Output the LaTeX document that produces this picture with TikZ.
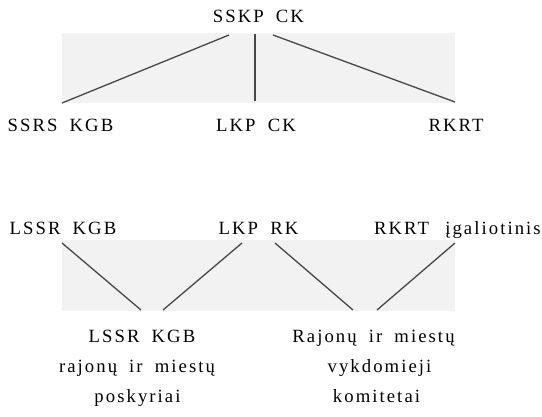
\documentclass[tikz,border=0pt]{standalone}
\usepackage{fontspec}
\setmainfont{Liberation Serif}
\newfontfamily\lsp[LetterSpace=11,WordSpace=1.8]{Liberation Serif}
\begin{document}
\begin{tikzpicture}[x=1pt,y=-1pt,
  lbl/.style={anchor=base,inner sep=0pt,font=\lsp\fontsize{18.7}{20}\selectfont},
  link/.style={draw=black!72,line width=1.3pt},
  band/.style={fill=black!5,draw=none}]
\useasboundingbox (0,0) rectangle (542,416);
% scanned background bands
\path[band] (62,33) rectangle (455,103);
\path[band] (62,240) rectangle (455,311);
% top tree
\node[lbl] (sskp) at (258.5,22) {SSKP CK};
\node[lbl] (ssrs) at (60.5,131) {SSRS KGB};
\node[lbl] (lkpck) at (256,131) {LKP CK};
\node[lbl] (rkrt) at (456,131) {RKRT};
\coordinate (t1a) at (229,35);  \coordinate (t1b) at (62,103);
\coordinate (t2a) at (255,34);  \coordinate (t2b) at (255,101);
\coordinate (t3a) at (273,35);  \coordinate (t3b) at (455,102);
\draw[link] (t1a) -- (t1b);
\draw[link] (t2a) -- (t2b);
\draw[link] (t3a) -- (t3b);
% lower part
\node[lbl] (lssr) at (63,234) {LSSR KGB};
\node[lbl] (lkprk) at (258.5,234) {LKP RK};
\node[lbl] (rkrt2) at (401.5,234) {RKRT};
\node[lbl] (igal) at (493,234) {įgaliotinis};
\coordinate (b1a) at (62,243);  \coordinate (b1b) at (141,310);
\coordinate (b2a) at (242,243); \coordinate (b2b) at (163,310);
\coordinate (b3a) at (275,243); \coordinate (b3b) at (353,310);
\coordinate (b4a) at (455,243); \coordinate (b4b) at (377,310);
\draw[link] (b1a) -- (b1b);
\draw[link] (b2a) -- (b2b);
\draw[link] (b3a) -- (b3b);
\draw[link] (b4a) -- (b4b);
% bottom texts
\node[lbl] (k1) at (142,342) {LSSR KGB};
\node[lbl] (k2) at (137,372) {rajonų ir miestų};
\node[lbl] (k3) at (137.5,402) {poskyriai};
\node[lbl] (r1) at (373.5,342) {Rajonų ir miestų};
\node[lbl] (r2) at (379.5,372) {vykdomieji};
\node[lbl] (r3) at (376.5,402) {komitetai};
\end{tikzpicture}
\end{document}
